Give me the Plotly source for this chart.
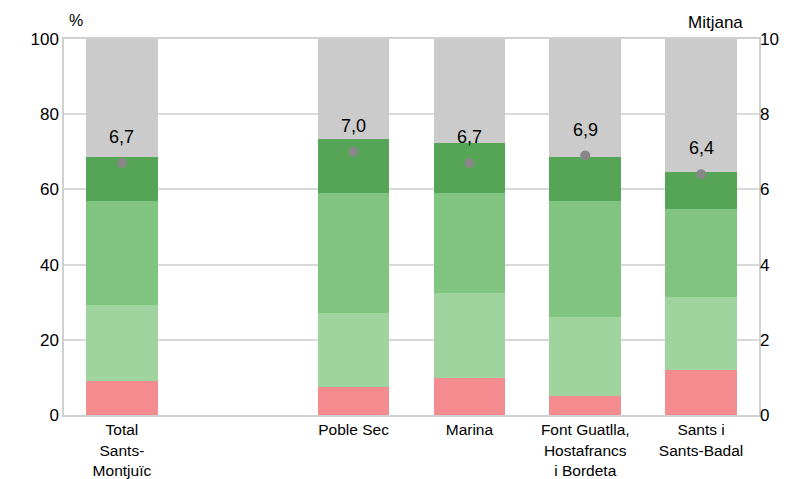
import plotly.graph_objects as go

# Categories (blank slot separates the district total from the neighbourhoods)
categories = ["Total<br>Sants-<br>Montjuïc", " ", "Poble Sec", "Marina",
              "Font Guatlla,<br>Hostafrancs<br>i Bordeta", "Sants i<br>Sants-Badal"]

# Stacked shares (%) from bottom to top; None for the empty slot
seg_red = [9.0, None, 7.4, 9.9, 5.1, 12.0]
seg_light = [20.3, None, 19.7, 22.5, 21.0, 19.4]
seg_mid = [27.6, None, 31.9, 26.6, 30.8, 23.4]
seg_dark = [11.8, None, 14.3, 13.3, 11.7, 9.7]
seg_gray = [31.3, None, 26.7, 27.7, 31.4, 35.5]

# Average score (right axis, 0-10)
mitjana = [6.7, None, 7.0, 6.7, 6.9, 6.4]
mitjana_labels = ["6,7", "", "7,0", "6,7", "6,9", "6,4"]

colors = ["#F48C8F", "#A0D49F", "#80C47F", "#56A557", "#CBCBCB"]
font = "Liberation Sans, Arial, sans-serif"

fig = go.Figure()
for vals, col in zip([seg_red, seg_light, seg_mid, seg_dark, seg_gray], colors):
    fig.add_trace(go.Bar(x=categories, y=vals, marker=dict(color=col, line=dict(width=0)),
                         width=0.62, showlegend=False, hoverinfo="skip"))

fig.add_trace(go.Scatter(x=categories, y=mitjana, yaxis="y2", mode="markers",
                         marker=dict(color="#878787", size=10), showlegend=False))

# value labels above the dots
for c, v, t in zip(categories, mitjana, mitjana_labels):
    if v is None:
        continue
    fig.add_annotation(x=c, y=v, yref="y2", text=t, showarrow=False, yshift=26,
                       font=dict(size=18, color="#000000", family=font))

fig.add_annotation(x=0, y=1, xref="paper", yref="paper", text="%", showarrow=False,
                   xanchor="left", yanchor="bottom", xshift=3, yshift=8,
                   font=dict(size=16, color="#000000", family=font))
fig.add_annotation(x=1, y=1, xref="paper", yref="paper", text="Mitjana", showarrow=False,
                   xanchor="right", yanchor="bottom", xshift=-14, yshift=5,
                   font=dict(size=17, color="#000000", family=font))

fig.update_layout(
    barmode="stack",
    width=796, height=479,
    margin=dict(l=64, r=37, t=39, b=64),
    paper_bgcolor="white", plot_bgcolor="white",
    font=dict(family=font, size=17, color="#000000"),
    xaxis=dict(type="category", categoryorder="array", categoryarray=categories,
               showgrid=False, showline=True, linecolor="#D0D0D0", linewidth=1.5, mirror=True,
               ticks="", tickfont=dict(size=15.5), range=[-0.5, 5.5], automargin=False,
               ticklabelstandoff=0),
    yaxis=dict(range=[0, 100], tickvals=[0, 20, 40, 60, 80, 100], showgrid=True,
               gridcolor="#D9D9D9", gridwidth=1.5, zeroline=False, showline=True,
               linecolor="#D0D0D0", linewidth=1.5, mirror=True, ticks="", ticklen=0,
               tickfont=dict(size=17), automargin=False),
    yaxis2=dict(range=[0, 10], tickvals=[0, 2, 4, 6, 8, 10], overlaying="y", side="right",
                showgrid=False, zeroline=False, showline=False, tickfont=dict(size=17),
                automargin=False),
)

fig.write_html("out.html", config={"displayModeBar": False},
               post_script="document.body.style.margin='0';")
